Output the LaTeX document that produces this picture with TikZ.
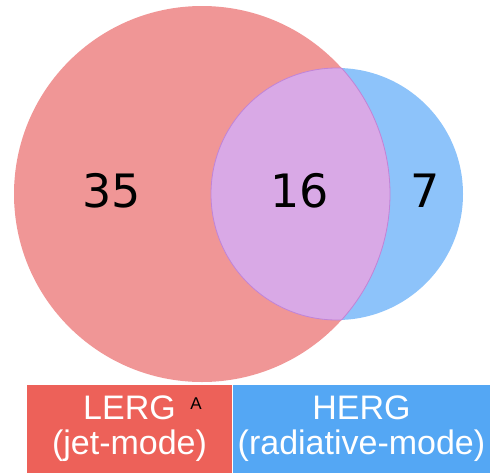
\documentclass[tikz,border=0pt]{standalone}
\usepackage{fontspec}
\setmainfont{Liberation Sans}
\newfontfamily\numfont{DejaVu Sans}
\usepackage{tikz}

\definecolor{lergpink}{HTML}{F09696}
\definecolor{hergblue}{HTML}{8DC3FA}
\definecolor{bothlilac}{HTML}{D9A9E6}
\definecolor{lensline}{HTML}{C283D6}
\definecolor{lergred}{HTML}{ED6159}
\definecolor{hergdeep}{HTML}{54A7F4}

\tikzset{
	count/.style={draw=none,fill=none,font=\numfont\fontsize{46}{46}\selectfont},
	modebox/.style={draw=none,minimum height=88pt,inner sep=0pt,text=white,align=center,
		font=\fontsize{34}{35}\selectfont},
}

\begin{document}
\begin{tikzpicture}[x=1pt,y=-1pt]

	\useasboundingbox (0,0) rectangle (490,472);

	\fill[lergpink] (202,194) circle (188pt);
	\fill[hergblue] (337,194) circle (126pt);
	\begin{scope}
		\clip (202,194) circle (188pt);
		\fill[bothlilac] (337,194) circle (126pt);
		\draw[lensline,line width=0.8pt] (337,194) circle (126pt);
	\end{scope}
	\begin{scope}
		\clip (337,194) circle (126pt);
		\draw[lensline,line width=0.8pt] (202,194) circle (188pt);
	\end{scope}

	\node[count] (lergonly) at (112,191) {35};
	\node[count] (both)     at (300,191) {16};
	\node[count] (hergonly) at (425,191) {7};

	\node[modebox,fill=lergred,minimum width=205pt]  (lerg) at (129.5,429) {LERG\\(jet-mode)};
	\node[modebox,fill=hergdeep,minimum width=257pt] (herg) at (361.5,429) {HERG\\(radiative-mode)};
	\node[draw=none,fill=none,font=\fontsize{17}{17}\selectfont] (note) at (196,404) {A};

\end{tikzpicture}
\end{document}
